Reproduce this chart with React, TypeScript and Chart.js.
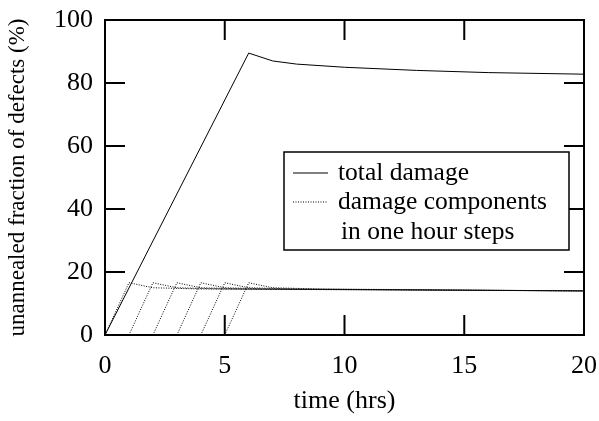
import Chart from 'chart.js/auto';
import { useEffect, useRef } from 'react';

const xTicks = [0, 5, 10, 15, 20];
const yTicks = [0, 20, 40, 60, 80, 100];

const totalX = [0, 6, 7, 8, 10, 13, 16, 20];
const totalY = [0, 89.5, 87, 86, 85, 84, 83.3, 82.8];

// one component per hour step: [time], [fraction]
const componentX = [
  [0, 1, 2, 4, 20],
  [1, 2, 3, 5, 20],
  [2, 3, 4, 6, 20],
  [3, 4, 5, 7, 20],
  [4, 5, 6, 8, 20],
  [5, 6, 7, 9, 20],
];
const componentY = [
  [0, 16.6, 15.0, 14.6, 14.0],
  [0, 16.6, 15.0, 14.6, 14.0],
  [0, 16.6, 15.0, 14.6, 14.0],
  [0, 16.6, 15.0, 14.6, 14.0],
  [0, 16.6, 15.0, 14.6, 14.0],
  [0, 16.6, 15.0, 14.6, 14.0],
];

const FONT = '"Liberation Serif", "Times New Roman", serif';

const App = () => {
  const chartRef = useRef<HTMLCanvasElement | null>(null);

  useEffect(() => {
    document.body.style.margin = '0';
    if (!chartRef.current) return;
    const ctx = chartRef.current.getContext('2d');
    if (!ctx) return;

    const pts = (xs: number[], ys: number[]) => xs.map((x, i) => ({ x, y: ys[i] }));

    const frame = {
      id: 'frame',
      afterDraw: (chart: any) => {
        const c = chart.ctx;
        const a = chart.chartArea;
        const sx = chart.scales.x;
        const sy = chart.scales.y;
        c.save();
        c.strokeStyle = '#000';
        c.lineWidth = 2;
        c.strokeRect(a.left, a.top, a.right - a.left, a.bottom - a.top);
        c.beginPath();
        xTicks.forEach((t) => {
          const px = sx.getPixelForValue(t);
          c.moveTo(px, a.bottom);
          c.lineTo(px, a.bottom - 20);
          c.moveTo(px, a.top);
          c.lineTo(px, a.top + 20);
        });
        yTicks.forEach((t) => {
          const py = sy.getPixelForValue(t);
          c.moveTo(a.left, py);
          c.lineTo(a.left + 20, py);
          c.moveTo(a.right, py);
          c.lineTo(a.right - 20, py);
        });
        c.stroke();

        // legend
        const lx = 284, ly = 152, lw = 285, lh = 98;
        c.fillStyle = '#fff';
        c.fillRect(lx, ly, lw, lh);
        c.lineWidth = 1.5;
        c.strokeRect(lx, ly, lw, lh);
        c.lineWidth = 1;
        c.beginPath();
        c.moveTo(293, 173);
        c.lineTo(328, 173);
        c.stroke();
        c.setLineDash([1, 1.5]);
        c.beginPath();
        c.moveTo(293, 202);
        c.lineTo(328, 202);
        c.stroke();
        c.setLineDash([]);
        c.fillStyle = '#000';
        c.font = '25.5px ' + FONT;
        c.textBaseline = 'middle';
        c.fillText('total damage', 338, 173);
        c.fillText('damage components', 338, 202);
        c.fillText('in one hour steps', 341, 232);
        c.restore();
      },
    };

    const chartInstance = new Chart(ctx, {
      type: 'line',
      data: {
        datasets: [
          {
            data: pts(totalX, totalY),
            borderColor: '#000',
            borderWidth: 1,
            pointRadius: 0,
            tension: 0,
          },
          ...componentX.map((xs, i) => ({
            data: pts(xs, componentY[i]),
            borderColor: '#000',
            borderWidth: 1,
            borderDash: [1, 1.5],
            pointRadius: 0,
            tension: 0,
          })),
        ],
      },
      options: {
        animation: false,
        responsive: false,
        layout: { padding: { top: 20, right: 15 } },
        plugins: { legend: { display: false }, tooltip: { enabled: false } },
        scales: {
          x: {
            type: 'linear',
            min: 0,
            max: 20,
            afterFit: (s: any) => { s.height = 86; s.paddingLeft = 0; s.paddingRight = 0; },
            afterBuildTicks: (s: any) => { s.ticks = xTicks.map((v) => ({ value: v })); },
            grid: { display: false },
            border: { display: false },
            ticks: { color: '#000', font: { family: FONT, size: 26 }, padding: 8 },
            title: { display: true, text: 'time (hrs)', color: '#000', font: { family: FONT, size: 26 }, padding: { top: 0 } },
          },
          y: {
            type: 'linear',
            min: 0,
            max: 100,
            afterFit: (s: any) => { s.width = 105; s.paddingTop = 0; s.paddingBottom = 0; },
            afterBuildTicks: (s: any) => { s.ticks = yTicks.map((v) => ({ value: v })); },
            grid: { display: false },
            border: { display: false },
            ticks: { color: '#000', font: { family: FONT, size: 26 }, padding: 4 },
            title: { display: true, text: 'unannealed fraction of defects (%)', color: '#000', font: { family: FONT, size: 23 }, padding: { top: 4, bottom: 0 } },
          },
        },
      },
      plugins: [frame],
    });

    return () => {
      chartInstance.destroy();
    };
  }, []);

  return <canvas ref={chartRef} width={599} height={421}></canvas>;
};

export default App;
